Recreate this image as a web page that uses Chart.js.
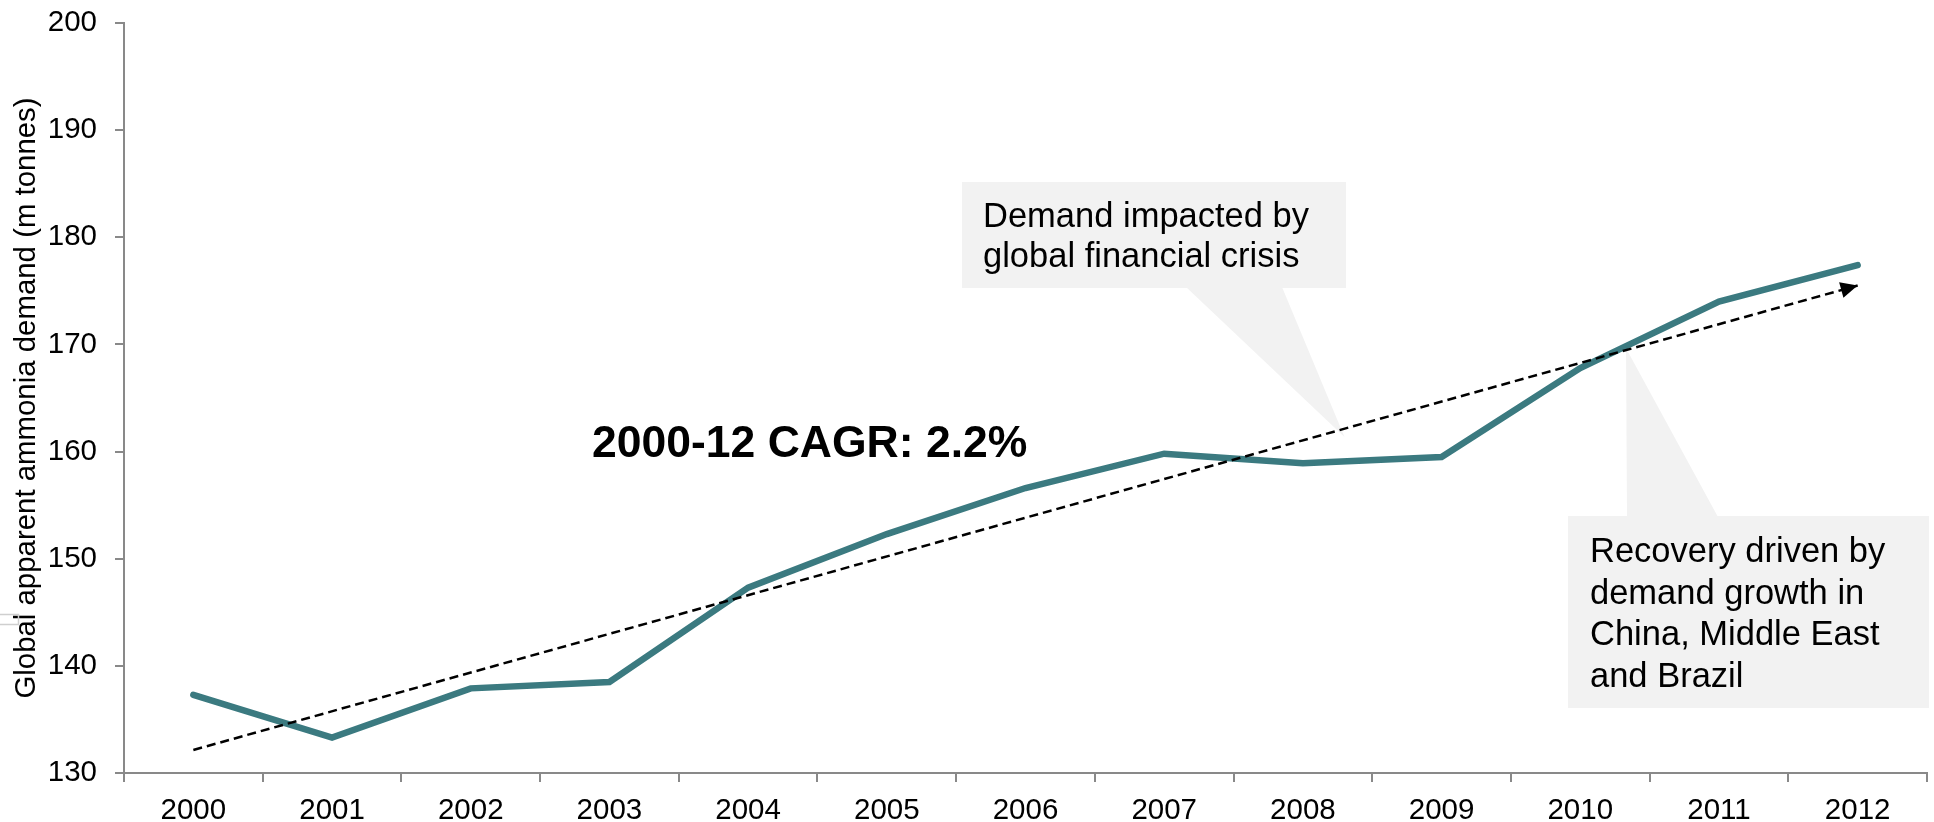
<!DOCTYPE html>
<html>
<head>
<meta charset="utf-8">
<script src="https://cdn.jsdelivr.net/npm/chart.js@4/dist/chart.umd.min.js"></script>
<style>
html,body{margin:0;padding:0;background:#fff;}
#wrap{width:1934px;height:822px;position:relative;}
</style>
</head>
<body>
<div id="wrap"><canvas id="c" width="1934" height="822"></canvas></div>
<script>
// ---- data ----
const years = ['2000','2001','2002','2003','2004','2005','2006','2007','2008','2009','2010','2011','2012'];
const demand = [137.3, 133.3, 137.9, 138.5, 147.3, 152.3, 156.6, 159.8, 158.9, 159.5, 167.8, 174.0, 177.4];
const trendX = [0, 12];
const trendY = [132.15, 175.5];
const yTicks = [130, 140, 150, 160, 170, 180, 190, 200];
const yTitle = 'Global apparent ammonia demand (m tonnes)';
const cagrLabel = '2000-12 CAGR: 2.2%';
const note1 = ['Demand impacted by', 'global financial crisis'];
const note2 = ['Recovery driven by', 'demand growth in', 'China, Middle East', 'and Brazil'];
const note1Tip = {x: 8.30, y: 161.35};
const note2Tip = {x: 10.33, y: 169.65};

const FONT = '"Liberation Sans", Arial, Helvetica, sans-serif';
const TEAL = '#3b7a80';
const AXIS = '#898989';
const BOXFILL = '#f2f2f2';

const annot = {
  id: 'annot',
  beforeDatasetsDraw(chart) {
    const ctx = chart.ctx, xs = chart.scales.x2, ys = chart.scales.y;
    ctx.save();
    // small stray frame at left edge
    ctx.strokeStyle = '#cfcfcf'; ctx.lineWidth = 1.5;
    ctx.beginPath(); ctx.moveTo(0, 614.5); ctx.lineTo(18.5, 614.5); ctx.lineTo(18.5, 624.5); ctx.lineTo(0, 624.5); ctx.stroke();
    ctx.fillStyle = BOXFILL;
    // callout 1
    ctx.fillRect(962, 182, 384, 106);
    let tx = xs.getPixelForValue(note1Tip.x), ty = ys.getPixelForValue(note1Tip.y);
    ctx.beginPath(); ctx.moveTo(1186, 287); ctx.lineTo(1282, 287); ctx.lineTo(tx, ty); ctx.closePath(); ctx.fill();
    // callout 2
    ctx.fillRect(1568, 516, 361, 192);
    tx = xs.getPixelForValue(note2Tip.x); ty = ys.getPixelForValue(note2Tip.y);
    ctx.beginPath(); ctx.moveTo(1627, 517); ctx.lineTo(1718, 517); ctx.lineTo(tx, ty); ctx.closePath(); ctx.fill();
    ctx.restore();
  },
  afterDatasetsDraw(chart) {
    const ctx = chart.ctx, xs = chart.scales.x2, ys = chart.scales.y;
    ctx.save();
    // arrow head on trend
    const x0 = xs.getPixelForValue(trendX[0]), y0 = ys.getPixelForValue(trendY[0]);
    const x1 = xs.getPixelForValue(trendX[1]), y1 = ys.getPixelForValue(trendY[1]);
    const a = Math.atan2(y1 - y0, x1 - x0);
    const L = 17, W = 8;
    ctx.fillStyle = '#000';
    ctx.beginPath();
    ctx.moveTo(x1, y1);
    ctx.lineTo(x1 - L * Math.cos(a) + W * Math.sin(a), y1 - L * Math.sin(a) - W * Math.cos(a));
    ctx.lineTo(x1 - L * Math.cos(a) - W * Math.sin(a), y1 - L * Math.sin(a) + W * Math.cos(a));
    ctx.closePath(); ctx.fill();
    // texts
    ctx.fillStyle = '#000';
    ctx.textBaseline = 'alphabetic';
    ctx.textAlign = 'left';
    ctx.font = '34.5px ' + FONT;
    note1.forEach((t, i) => ctx.fillText(t, 983, 227 + i * 40));
    note2.forEach((t, i) => ctx.fillText(t, 1590, 562 + i * 41.7));
    ctx.font = 'bold 44.5px ' + FONT;
    ctx.fillText(cagrLabel, 592, 457);
    ctx.restore();
  }
};

new Chart(document.getElementById('c'), {
  type: 'line',
  data: {
    labels: years,
    datasets: [
      {
        label: 'Demand',
        data: demand,
        xAxisID: 'x',
        borderColor: TEAL,
        borderWidth: 6.5,
        borderCapStyle: 'round',
        borderJoinStyle: 'miter',
        pointRadius: 0,
        tension: 0,
        fill: false,
        order: 1
      },
      {
        label: 'Trend',
        data: trendX.map((x, i) => ({x: x, y: trendY[i]})),
        xAxisID: 'x2',
        borderColor: '#000',
        borderWidth: 2.5,
        borderDash: [9, 5],
        pointRadius: 0,
        tension: 0,
        fill: false,
        order: 0
      }
    ]
  },
  options: {
    responsive: false,
    animation: false,
    devicePixelRatio: 1,
    layout: {padding: {top: 23, right: 7, left: 0, bottom: 0}},
    plugins: {legend: {display: false}, tooltip: {enabled: false}},
    scales: {
      x: {
        type: 'category',
        offset: true,
        grid: {offset: true, drawOnChartArea: false, drawTicks: true, tickLength: 9, color: AXIS, lineWidth: 2},
        border: {display: true, color: AXIS, width: 2},
        ticks: {color: '#000', font: {family: FONT, size: 29.5}, padding: 11, maxRotation: 0, autoSkip: false},
        afterFit(s) { s.height = 49; }
      },
      x2: {
        type: 'linear', display: false, min: -0.5, max: 12.5
      },
      y: {
        type: 'linear',
        min: yTicks[0], max: yTicks[yTicks.length - 1],
        afterBuildTicks(s) { s.ticks = yTicks.map(v => ({value: v})); },
        grid: {drawOnChartArea: false, drawTicks: true, tickLength: 9, color: AXIS, lineWidth: 2},
        border: {display: true, color: AXIS, width: 2},
        ticks: {color: '#000', font: {family: FONT, size: 29.5}, padding: 18},
        title: {display: true, text: yTitle, color: '#000', font: {family: FONT, size: 29.4}, padding: {top: 9, bottom: 0}},
        afterFit(s) { s.width = 124; s.paddingTop = 0; s.paddingBottom = 0; }
      }
    }
  },
  plugins: [annot]
});
</script>
</body>
</html>
